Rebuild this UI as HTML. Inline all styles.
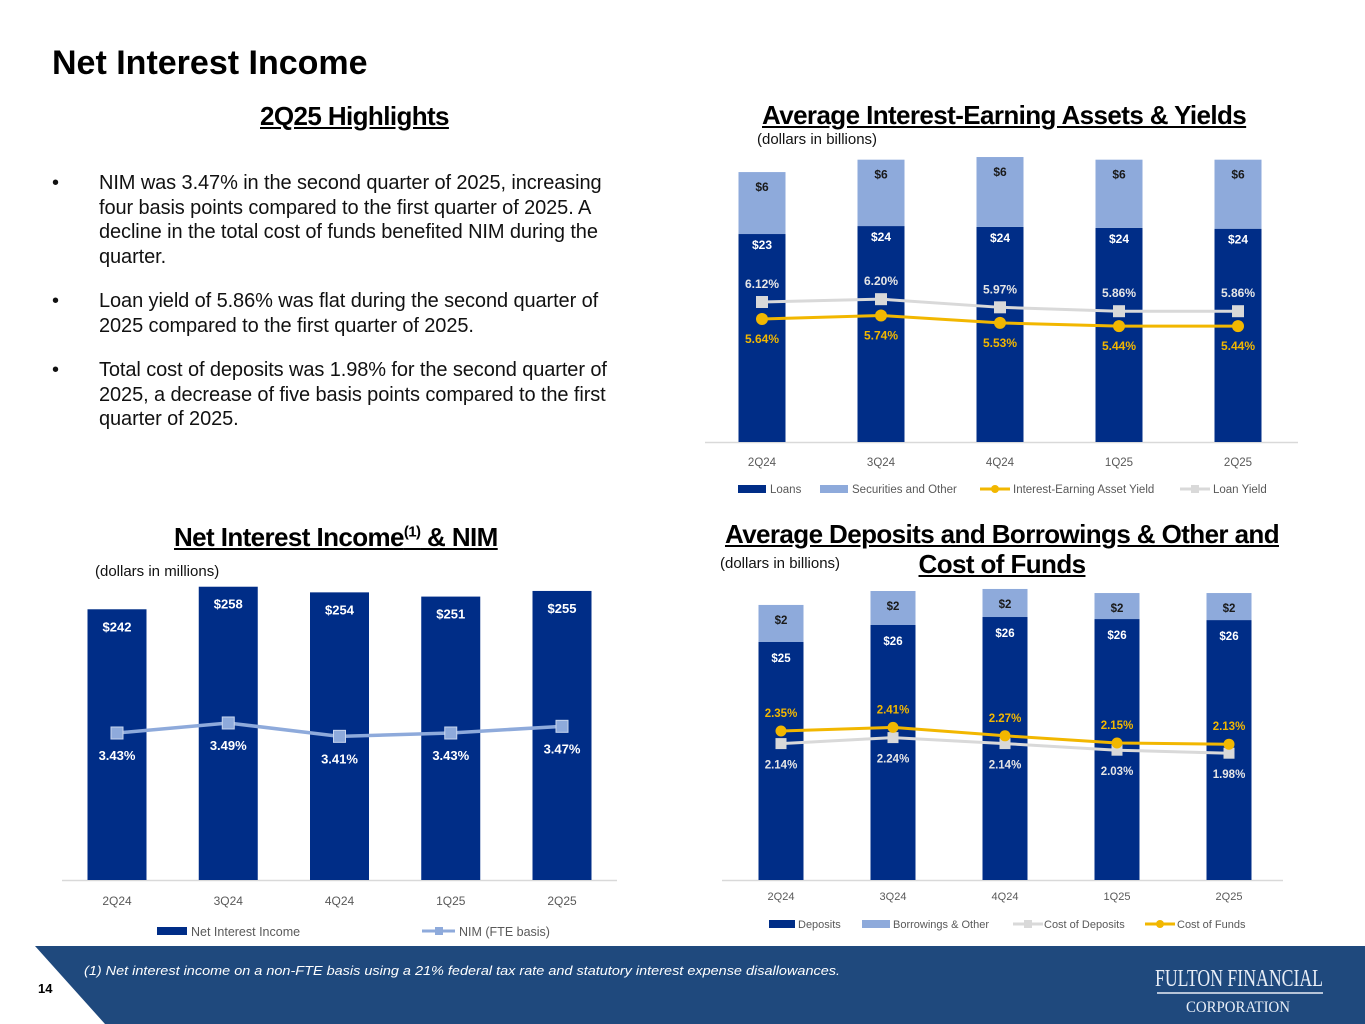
<!DOCTYPE html>
<html><head><meta charset="utf-8">
<style>
html,body{margin:0;padding:0;background:#fff;}
body{width:1365px;height:1024px;position:relative;overflow:hidden;font-family:"Liberation Sans",sans-serif;}
.abs{position:absolute;}
.h{font-weight:bold;text-decoration:underline;color:#000;white-space:nowrap;font-size:26px;letter-spacing:-0.6px;}
.b{font-size:20px;color:#111;letter-spacing:-0.1px;line-height:24.5px;white-space:nowrap;}
.sub{font-size:15px;color:#111;}
svg text{font-family:"Liberation Sans",sans-serif;}
</style></head>
<body>
<div class="abs" style="left:52px;top:44px;font-size:34px;font-weight:bold;letter-spacing:0px;">Net Interest Income</div>
<div class="abs h" style="left:260px;top:101px;">2Q25 Highlights</div>

<div class="abs" style="left:52px;top:171px;width:620px;">
  <div style="position:relative;padding-left:47px;" class="b"><span style="position:absolute;left:0;">•</span>NIM was 3.47% in the second quarter of 2025, increasing<br>four basis points compared to the first quarter of 2025. A<br>decline in the total cost of funds benefited NIM during the<br>quarter.</div>
  <div style="position:relative;padding-left:47px;margin-top:20px;" class="b"><span style="position:absolute;left:0;">•</span>Loan yield of 5.86% was flat during the second quarter of<br>2025 compared to the first quarter of 2025.</div>
  <div style="position:relative;padding-left:47px;margin-top:20px;" class="b"><span style="position:absolute;left:0;">•</span>Total cost of deposits was 1.98% for the second quarter of<br>2025, a decrease of five basis points compared to the first<br>quarter of 2025.</div>
</div>

<div class="abs h" style="left:762px;top:100px;">Average Interest-Earning Assets &amp; Yields</div>
<div class="abs sub" style="left:757px;top:131px;">(dollars in billions)</div>

<div class="abs h" style="left:174px;top:522px;">Net Interest Income<sup style="font-size:15px;">(1)</sup> &amp; NIM</div>
<div class="abs sub" style="left:95px;top:563px;">(dollars in millions)</div>

<div class="abs h" style="left:715px;top:519px;width:574px;text-align:center;line-height:30px;">Average Deposits and Borrowings &amp; Other and<br>Cost of Funds</div>
<div class="abs sub" style="left:720px;top:555px;">(dollars in billions)</div>

<svg id="footer" class="abs" style="left:0;top:0;" width="1365" height="1024">
  <polygon points="35,946 1365,946 1365,1024 105,1024" fill="#1f497d"/>
  <text x="38" y="993" font-size="13" font-weight="bold" fill="#000">14</text>
  <text x="84" y="975" font-size="12.5" font-style="italic" fill="#fff" textLength="756" lengthAdjust="spacingAndGlyphs">(1) Net interest income on a non-FTE basis using a 21% federal tax rate and statutory interest expense disallowances.</text>
  <text x="1155" y="986" font-size="24" fill="#e8eef7" textLength="168" lengthAdjust="spacingAndGlyphs" style="font-family:'Liberation Serif',serif;">FULTON FINANCIAL</text>
  <line x1="1157" y1="993" x2="1323" y2="993" stroke="#e8eef7" stroke-width="1.5"/>
  <text x="1186" y="1012" font-size="16" fill="#e8eef7" textLength="104" lengthAdjust="spacingAndGlyphs" style="font-family:'Liberation Serif',serif;">CORPORATION</text>
</svg>

<svg id="charts" class="abs" style="left:0;top:0;" width="1365" height="946"></svg>

<script>
// ---------- Chart 1: Average Interest-Earning Assets & Yields ----------
const c1Categories = ["2Q24","3Q24","4Q24","1Q25","2Q25"];
const c1Loans = [23.5, 24.4, 24.3, 24.2, 24.1];
const c1Securities = [7.0, 7.5, 7.9, 7.7, 7.8];
const c1LoanLabels = ["$23","$24","$24","$24","$24"];
const c1SecLabels = ["$6","$6","$6","$6","$6"];
const c1LoanYield = [6.12, 6.20, 5.97, 5.86, 5.86];
const c1AssetYield = [5.64, 5.74, 5.53, 5.44, 5.44];

// ---------- Chart 3: Net Interest Income & NIM ----------
const c3Categories = ["2Q24","3Q24","4Q24","1Q25","2Q25"];
const c3NII = [242, 258, 254, 251, 255];
const c3NIM = [3.43, 3.49, 3.41, 3.43, 3.47];

// ---------- Chart 4: Deposits and Borrowings & Cost of Funds ----------
const c4Categories = ["2Q24","3Q24","4Q24","1Q25","2Q25"];
const c4Deposits = [25.0, 26.0, 26.47, 26.35, 26.29];
const c4Borrowings = [2.18, 2.0, 1.65, 1.53, 1.59];
const c4DepLabels = ["$25","$26","$26","$26","$26"];
const c4BorLabels = ["$2","$2","$2","$2","$2"];
const c4CostDeposits = [2.14, 2.24, 2.14, 2.03, 1.98];
const c4CostFunds = [2.35, 2.41, 2.27, 2.15, 2.13];

const NS = "http://www.w3.org/2000/svg";
const svg = document.getElementById("charts");
const NAVY = "#002d87", LIGHT = "#8eaadb", GOLD = "#f2b700", GRAY = "#d9d9d9";

function mk(tag, attrs, parent) {
  const e = document.createElementNS(NS, tag);
  for (const k in attrs) e.setAttribute(k, attrs[k]);
  (parent || svg).appendChild(e);
  return e;
}
function txt(x, y, s, size, fill, weight, anchor) {
  const t = mk("text", {x: x, y: y, "font-size": size, fill: fill, "font-weight": weight || "normal", "text-anchor": anchor || "middle"});
  t.textContent = s;
  return t;
}

function bandX(x0, step) { return i => x0 + i * step; }
function linY(base, min, scale) { return v => base - (v - min) * scale; }

// ===== Chart 1 =====
(function () {
  const xC = bandX(762, 119);
  const yBar = linY(442, 0, 8.85);
  const yPct = linY(302, 6.12, 35.4);
  const bw = 47;
  mk("line", {x1: 705, y1: 442.5, x2: 1298, y2: 442.5, stroke: "#d9d9d9", "stroke-width": 1.5});
  c1Categories.forEach((c, i) => {
    const x = xC(i);
    const yl = yBar(c1Loans[i]);
    const ys = yBar(c1Loans[i] + c1Securities[i]);
    const b1 = mk("rect", {x: x - bw / 2, y: yl, width: bw, height: 442 - yl, fill: NAVY});
    
    
    const b2 = mk("rect", {x: x - bw / 2, y: ys, width: bw, height: yl - ys, fill: LIGHT});
    
    
    txt(x, yl + 15, c1LoanLabels[i], 12, "#fff", "bold");
    txt(x, ys + 19, c1SecLabels[i], 12, "#1a1a1a", "bold");
    const t = txt(x, 466, c, 11.5, "#595959");
    
    
  });
  function line(vals, color, marker, name) {
    const pts = vals.map((v, i) => xC(i) + "," + yPct(v)).join(" ");
    const l = mk("polyline", {points: pts, fill: "none", stroke: color, "stroke-width": 3});
    
    
    vals.forEach((v, i) => {
      let m;
      if (marker === "sq") m = mk("rect", {x: xC(i) - 6, y: yPct(v) - 6, width: 12, height: 12, fill: color});
      else m = mk("circle", {cx: xC(i), cy: yPct(v), r: 6, fill: color});
      
      
    });
  }
  line(c1LoanYield, GRAY, "sq", "loan-yield-line");
  line(c1AssetYield, GOLD, "c", "asset-yield-line");
  c1LoanYield.forEach((v, i) => txt(xC(i), yPct(v) - 14, v.toFixed(2) + "%", 12, "#e6e6e6", "bold"));
  c1AssetYield.forEach((v, i) => txt(xC(i), yPct(v) + 24, v.toFixed(2) + "%", 12, GOLD, "bold"));
  mk("rect", {x: 738, y: 485, width: 28, height: 8, fill: NAVY});
  txt(770, 493, "Loans", 11.5, "#595959", "normal", "start");
  mk("rect", {x: 820, y: 485, width: 28, height: 8, fill: LIGHT});
  txt(852, 493, "Securities and Other", 11.5, "#595959", "normal", "start");
  mk("line", {x1: 980, y1: 489, x2: 1010, y2: 489, stroke: GOLD, "stroke-width": 3});
  mk("circle", {cx: 995, cy: 489, r: 4, fill: GOLD});
  txt(1013, 493, "Interest-Earning Asset Yield", 11.5, "#595959", "normal", "start");
  mk("line", {x1: 1180, y1: 489, x2: 1210, y2: 489, stroke: GRAY, "stroke-width": 3});
  mk("rect", {x: 1191, y: 485, width: 8, height: 8, fill: GRAY});
  txt(1213, 493, "Loan Yield", 11.5, "#595959", "normal", "start");
})();

// ===== Chart 3 =====
(function () {
  const xC = bandX(117, 111.25);
  const yBar = linY(880, 50, 1.41);
  const yPct = linY(733, 3.43, 167);
  const bw = 59;
  mk("line", {x1: 62, y1: 880.5, x2: 617, y2: 880.5, stroke: "#d9d9d9", "stroke-width": 1.5});
  c3Categories.forEach((c, i) => {
    const x = xC(i);
    const y = yBar(c3NII[i]);
    const b = mk("rect", {x: x - bw / 2, y: y, width: bw, height: 880 - y, fill: NAVY});
    
    
    txt(x, y + 22, "$" + c3NII[i], 13, "#fff", "bold");
    const t = txt(x, 905, c, 12, "#595959");
    
    
  });
  const pts = c3NIM.map((v, i) => xC(i) + "," + yPct(v)).join(" ");
  const l = mk("polyline", {points: pts, fill: "none", stroke: LIGHT, "stroke-width": 3.5});
  
  
  c3NIM.forEach((v, i) => {
    const m = mk("rect", {x: xC(i) - 6, y: yPct(v) - 6, width: 12, height: 12, fill: LIGHT, stroke: "#c9d6ee", "stroke-width": 1});
    
    
    txt(xC(i), yPct(v) + 27, v.toFixed(2) + "%", 13, "#fff", "bold");
  });
  mk("rect", {x: 157, y: 927, width: 30, height: 8, fill: NAVY});
  txt(191, 936, "Net Interest Income", 12.5, "#595959", "normal", "start");
  mk("line", {x1: 422, y1: 931, x2: 455, y2: 931, stroke: LIGHT, "stroke-width": 3});
  mk("rect", {x: 435, y: 927, width: 8, height: 8, fill: LIGHT});
  txt(459, 936, "NIM (FTE basis)", 12.5, "#595959", "normal", "start");
})();

// ===== Chart 4 =====
(function () {
  const xC = bandX(781, 112);
  const yBar = linY(880, 11, 17);
  const yPct = linY(731, 2.35, 60);
  const bw = 45;
  mk("line", {x1: 722, y1: 880.5, x2: 1283, y2: 880.5, stroke: "#d9d9d9", "stroke-width": 1.5});
  c4Categories.forEach((c, i) => {
    const x = xC(i);
    const yd = yBar(c4Deposits[i]);
    const yb = yBar(c4Deposits[i] + c4Borrowings[i]);
    const b1 = mk("rect", {x: x - bw / 2, y: yd, width: bw, height: 880 - yd, fill: NAVY});
    
    
    const b2 = mk("rect", {x: x - bw / 2, y: yb, width: bw, height: yd - yb, fill: LIGHT});
    
    
    txt(x, yd + 20, c4DepLabels[i], 11.5, "#fff", "bold");
    txt(x, yb + 19, c4BorLabels[i], 11.5, "#1a1a1a", "bold");
    const t = txt(x, 900, c, 11, "#595959");
    
    
  });
  function line(vals, color, marker, name) {
    const pts = vals.map((v, i) => xC(i) + "," + yPct(v)).join(" ");
    const l = mk("polyline", {points: pts, fill: "none", stroke: color, "stroke-width": 3});
    
    
    vals.forEach((v, i) => {
      let m;
      if (marker === "sq") m = mk("rect", {x: xC(i) - 5.5, y: yPct(v) - 5.5, width: 11, height: 11, fill: color});
      else m = mk("circle", {cx: xC(i), cy: yPct(v), r: 5.5, fill: color});
      
      
    });
  }
  line(c4CostDeposits, GRAY, "sq", "cost-of-deposits-line");
  line(c4CostFunds, GOLD, "c", "cost-of-funds-line");
  c4CostFunds.forEach((v, i) => txt(xC(i), yPct(v) - 14, v.toFixed(2) + "%", 11.5, GOLD, "bold"));
  c4CostDeposits.forEach((v, i) => txt(xC(i), yPct(v) + 25, v.toFixed(2) + "%", 11.5, "#e6e6e6", "bold"));
  mk("rect", {x: 769, y: 920, width: 26, height: 8, fill: NAVY});
  txt(798, 928, "Deposits", 11, "#595959", "normal", "start");
  mk("rect", {x: 862, y: 920, width: 28, height: 8, fill: LIGHT});
  txt(893, 928, "Borrowings & Other", 11, "#595959", "normal", "start");
  mk("line", {x1: 1013, y1: 924, x2: 1043, y2: 924, stroke: GRAY, "stroke-width": 3});
  mk("rect", {x: 1024, y: 920, width: 8, height: 8, fill: GRAY});
  txt(1044, 928, "Cost of Deposits", 11, "#595959", "normal", "start");
  mk("line", {x1: 1145, y1: 924, x2: 1175, y2: 924, stroke: GOLD, "stroke-width": 3});
  mk("circle", {cx: 1160, cy: 924, r: 4, fill: GOLD});
  txt(1177, 928, "Cost of Funds", 11, "#595959", "normal", "start");
})();
</script>
</body></html>
